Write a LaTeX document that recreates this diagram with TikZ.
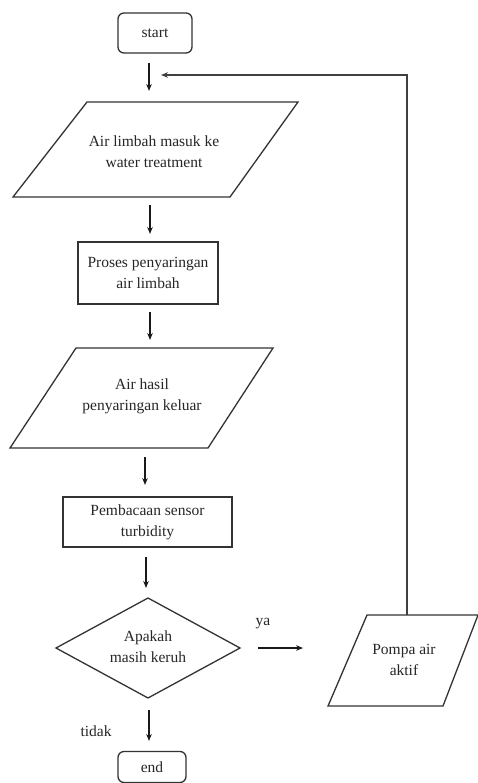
\documentclass[tikz,border=0pt]{standalone}
\usepackage{fontspec}
\setmainfont{Liberation Serif}
\usetikzlibrary{arrows.meta}
\begin{document}
\begin{tikzpicture}[x=1pt,y=-1pt,
  shapeline/.style={draw=black!80, line width=1.3pt},
  txt/.style={font=\fontsize{15.5}{21}\selectfont, align=center, text=black!85, inner sep=0pt},
  boxnode/.style={shapeline, txt, rectangle},
  roundnode/.style={shapeline, txt, rectangle, rounded corners=6pt},
  arr/.style={-{Stealth[length=7pt,width=5.5pt]}, line width=1.1pt, draw=black!90},
  fb/.style={line width=1.3pt, draw=black!75}]
\useasboundingbox (0,0) rectangle (478,783);
\fill[white] (0,0) rectangle (478,783);

% start
\node[roundnode, minimum width=74pt, minimum height=40pt] (start) at (155,33) {start};
\coordinate (a1s) at (149,63);
\coordinate (a1e) at (149,91);

% parallelogram 1
\draw[shapeline] (87,102) -- (298,102) -- (230,197) -- (13,197) -- cycle;
\node[txt] (p1) at (154,152) {Air limbah masuk ke\\water treatment};
\coordinate (a2s) at (150,205);
\coordinate (a2e) at (150,234);

% process 1
\node[boxnode, minimum width=140pt, minimum height=62pt] (r1) at (148,273) {Proses penyaringan\\air limbah};
\coordinate (a3s) at (150,312);
\coordinate (a3e) at (150,340);

% parallelogram 2
\draw[shapeline] (76,348) -- (273,348) -- (208,448) -- (10,448) -- cycle;
\node[txt] (p2) at (142,396) {Air hasil\\penyaringan keluar};
\coordinate (a4s) at (145,457);
\coordinate (a4e) at (145,485);

% process 2
\node[boxnode, minimum width=169pt, minimum height=50pt] (r2) at (147.5,522) {Pembacaan sensor\\turbidity};
\coordinate (a5s) at (146,557);
\coordinate (a5e) at (146,588);

% decision
\draw[shapeline] (148,598) -- (240,648) -- (148,698) -- (56,648) -- cycle;
\node[txt] (dec) at (148,647) {Apakah\\masih keruh};
\node[txt] (ya) at (263,624) {ya};
\coordinate (a6s) at (258,648);
\coordinate (a6e) at (303,648);

% pompa
\draw[shapeline] (367,615) -- (478,615) -- (443,706) -- (328,706) -- cycle;
\node[txt] (pompa) at (404,660) {Pompa air\\aktif};
\coordinate (fbs) at (407,615);
\coordinate (fbc) at (407,75);
\coordinate (fbe) at (161,75);

% end
\node[txt] (tidak) at (96,731) {tidak};
\coordinate (a7s) at (149,710);
\coordinate (a7e) at (149,741);
\node[roundnode, minimum width=68pt, minimum height=31pt] (end) at (152,767) {end};

% arrows
\draw[arr] (a1s) -- (a1e);
\draw[arr] (a2s) -- (a2e);
\draw[arr] (a3s) -- (a3e);
\draw[arr] (a4s) -- (a4e);
\draw[arr] (a5s) -- (a5e);
\draw[arr] (a6s) -- (a6e);
\draw[arr] (a7s) -- (a7e);
\draw[fb, -{Stealth[length=7pt,width=5.5pt]}] (fbs) -- (fbc) -- (fbe);
\end{tikzpicture}
\end{document}
